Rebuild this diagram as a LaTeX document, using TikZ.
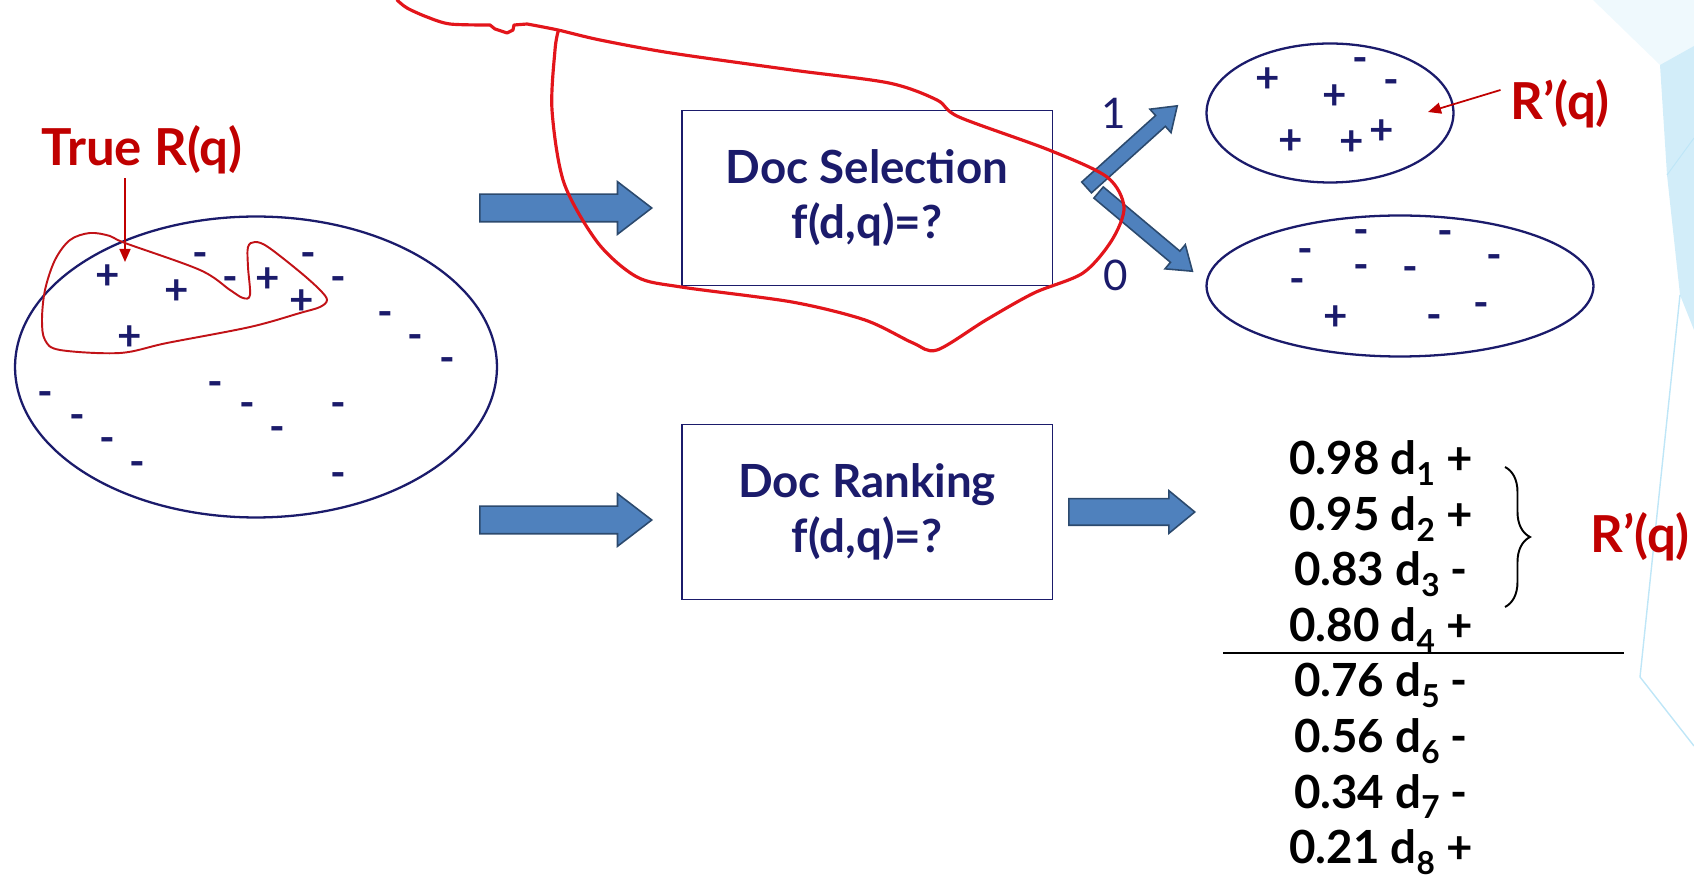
\documentclass[tikz,border=0pt]{standalone}
\usepackage{fontspec}
\setmainfont{Lato}
\usetikzlibrary{arrows.meta,positioning,calc,shapes.geometric,shapes.arrows,decorations.pathreplacing}

\definecolor{navy}{HTML}{1B1B6B}
\definecolor{inkred}{HTML}{C00000}
\definecolor{penred}{HTML}{E3151B}
\definecolor{arrowblue}{HTML}{4F81BD}
\definecolor{arrowedge}{HTML}{2C4A6E}
\definecolor{slideblue}{HTML}{BFE6F7}

\newcommand{\dsub}[1]{d\raisebox{-0.45ex}{\fontsize{18}{18}\selectfont #1}}

\begin{document}
\begin{tikzpicture}[
  x=0.02cm, y=-0.02cm,
  font=\bfseries,
  >=Latex,
  pool/.style={draw=navy, line width=1.3pt, ellipse, inner sep=0pt},
  fbox/.style={draw=navy, line width=1.1pt, minimum width=7.42cm, minimum height=3.5cm, align=center, text=navy, font=\bfseries\fontsize{26}{31}\selectfont},
  bigarrow/.style={single arrow, draw=arrowedge, fill=arrowblue, line width=0.9pt, anchor=tail, inner xsep=0pt, inner ysep=0.26cm, single arrow head extend=0.25cm, single arrow tip angle=75, minimum height=3.44cm},
  outarrow/.style={bigarrow, inner ysep=0.25cm, single arrow head extend=0.16cm, single arrow tip angle=79, minimum height=2.52cm},
  diagarrow/.style={bigarrow, inner ysep=0.13cm, single arrow head extend=0.17cm, single arrow tip angle=70},
  sign/.style={text=navy, inner sep=0pt, font=\bfseries\fontsize{24}{24}\selectfont},
  negsign/.style={sign, text height=1.1ex, text depth=0pt},
  bit/.style={text=navy, font=\fontsize{24}{24}\selectfont},
  redlabel/.style={text=inkred, inner sep=2pt, font=\bfseries\fontsize{29}{29}\selectfont},
  redarrow/.style={inkred, line width=1pt, -{Triangle[width=0.22cm, length=0.26cm]}},
  score/.style={anchor=base, inner sep=0pt, font=\bfseries\fontsize{26}{26}\selectfont},
  pen/.style={penred, line width=1.8pt, line join=round, line cap=round},
  thinpen/.style={penred!85!black, line width=1.1pt}
]
\useasboundingbox (0,0) rectangle (1694,884);

% slide decoration
\fill[slideblue!40, opacity=0.6] (1593,0) -- (1694,0) -- (1694,46) -- (1660,65) -- cycle;
\fill[slideblue, opacity=0.7] (1660,65) -- (1694,46) -- (1694,330) -- (1680,295) -- (1667,175) -- cycle;
\draw[slideblue, line width=0.8pt] (1680,295) -- (1640,677) -- (1694,746);
\draw[slideblue, line width=0.6pt] (1694,138) -- (1667,175);

% document collection
\node[pool, minimum width=9.64cm, minimum height=6.02cm] (all) at (256,367) {};
\foreach \x/\y [count=\i] in {108/277, 177/292, 268/280, 302/302, 130/338}
  \node[sign] (ap\i) at (\x,\y) {+};
\foreach \x/\y [count=\i] in {200/263, 230/287, 308/263, 338/287, 385/322, 415/345, 447/368, 215/392,
  45/402, 77/425, 107/448, 137/472, 247/413, 277/437, 338/413, 338/483}
  \node[negsign] (an\i) at (\x,\y) {-};

\node[redlabel] (trueR) at (142,150) {True R(q)};
\coordinate (hitR) at (125,262);
\draw[redarrow] (trueR.south -| hitR) -- (hitR);
\draw[thinpen] plot[smooth cycle, tension=0.55] coordinates {(125,243) (200,270) (230,290) (243,298)
  (250,295) (248,267) (248,247) (255,242) (268,247) (300,272) (320,290) (327,300) (320,307)
  (300,313) (250,327) (167,343) (120,353) (60,350) (45,340) (42,320) (45,290) (55,260)
  (70,240) (90,233) (110,236)};

% selection
\node[bigarrow] (arrSel) at (479,208) {};
\node[fbox] (sel) at (867,198) {Doc Selection\\f(d,q)=?};
\node[diagarrow, rotate=42, minimum height=2.44cm] (arrOne) at (1086,188) {};
\node[diagarrow, rotate=-40, minimum height=2.45cm] (arrZero) at (1098,192) {};
\node[bit] (one) at (1114,113) {1};
\node[bit] (zero) at (1116,275) {0};

\node[pool, minimum width=4.94cm, minimum height=2.78cm] (rel) at (1330,113) {};
\foreach \x/\y [count=\i] in {1268/80, 1335/97, 1291/142, 1352/143, 1382/132}
  \node[sign] (bp\i) at (\x,\y) {+};
\foreach \x/\y [count=\i] in {1360/68, 1391/90}
  \node[negsign] (bn\i) at (\x,\y) {-};
\node[pool, minimum width=7.74cm, minimum height=2.82cm] (nonrel) at (1400,286) {};
\node[sign] (cp1) at (1336,318) {+};
\foreach \x/\y [count=\i] in {1361/240, 1445/241, 1305/259, 1494/265, 1361/275,
  1410/277, 1297/289, 1434/325, 1481/313}
  \node[negsign] (cn\i) at (\x,\y) {-};

\node[redlabel] (relLab) at (1560,104) {R’(q)};
\coordinate (hitRel) at (1428,112);
\draw[redarrow] ($(relLab.west)+(-6,-14)$) -- (hitRel);

% ranking
\node[bigarrow] (arrRank) at (479,520) {};
\node[fbox] (rank) at (867,512) {Doc Ranking\\f(d,q)=?};
\node[outarrow] (arrOut) at (1068,512) {};

\foreach \v/\k/\s [count=\i] in {0.98/1/+, 0.95/2/+, 0.83/3/-, 0.80/4/+, 0.76/5/-, 0.56/6/-, 0.34/7/-, 0.21/8/+}
  \node[score] (r\i) at (1381,{475+55.5*(\i-1)}) {\v\ \dsub{\k}\ \s};
\draw[line width=1.2pt] (1223,653) -- (1624,653);
\draw[decorate, decoration={brace, amplitude=0.5cm}, line width=1.1pt] (1505,467) -- (1505,607);
\node[redlabel] (rankLab) at (1640,537) {R’(q)};

% freehand annotation
\draw[pen] plot[smooth, tension=0.5] coordinates {(397,0) (407,8) (427,17) (450,24) (490,25)}
  -- (495,29) -- (507,33) -- (513,30) -- (514,25)
  -- plot[smooth, tension=0.5] coordinates {(527,24) (558,30) (600,40) (671,53) (792,70) (889,83)
  (937,100) (959,117) (1049,150) (1107,177) (1124,207) (1112,240) (1083,273) (1034,293)
  (986,320) (937,350) (913,343) (865,320) (792,302) (681,287) (637,277) (598,243) (564,183)
  (552,110) (555,50) (558,32)};

\end{tikzpicture}
\end{document}
